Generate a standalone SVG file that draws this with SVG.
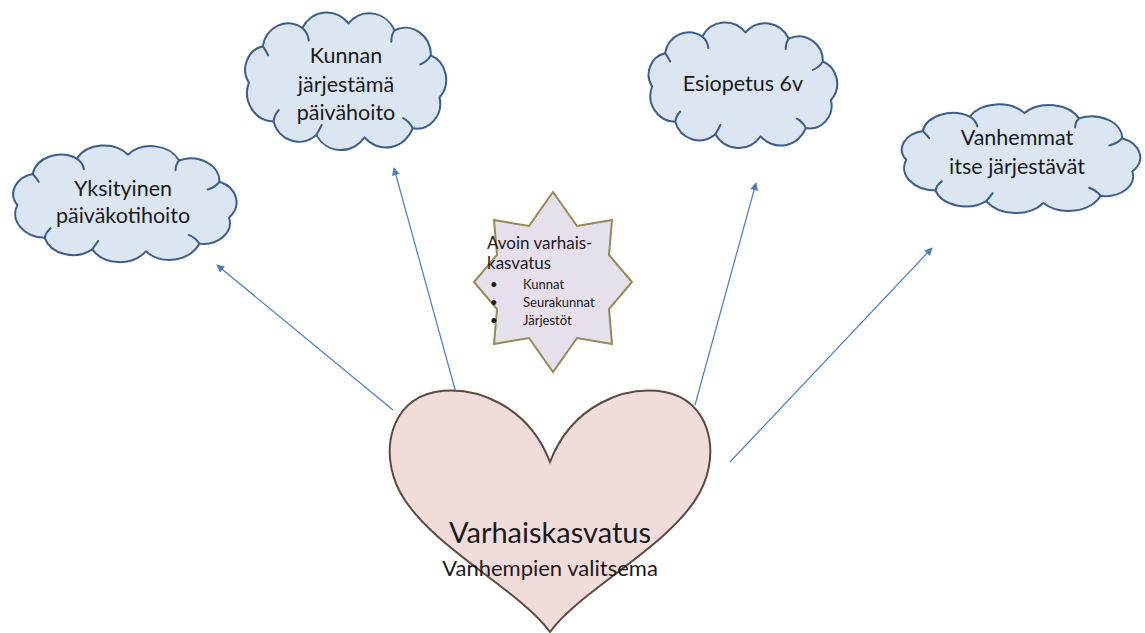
<svg xmlns="http://www.w3.org/2000/svg" width="1145" height="633" viewBox="0 0 1145 633">
<style>
.cloud{fill:#DCE6F2;stroke:#3B5E8C;stroke-width:2;stroke-linejoin:round}
.hook{fill:none;stroke:#3B5E8C;stroke-width:2;stroke-linecap:round}
.t{font-family:Lato,"Liberation Sans",sans-serif;fill:#1a1a1a;text-anchor:middle}
.st{font-family:Lato,"Liberation Sans",sans-serif;fill:#1a1a1a}
.conn{stroke:#4A7EBB;stroke-width:1.2;fill:none}
</style>
<defs>
<marker id="ah" viewBox="0 0 10 10" refX="9" refY="5" markerWidth="8" markerHeight="8" markerUnits="userSpaceOnUse" orient="auto">
<path d="M0,0 L10,5 L0,10 Z" fill="#4A7EBB"/>
</marker>
<g id="cloudShape">
<path class="cloud" vector-effect="non-scaling-stroke" d="M12,62 A21,21 0 0,1 25,30 A24,24 0 0,1 62,14 A26,26 0 0,1 105,10 A26,26 0 0,1 148,16 A24,24 0 0,1 182,38 A23,23 0 0,1 190,75 A22,22 0 0,1 165,102 A27,27 0 0,1 120,110 A27,27 0 0,1 75,108 A25,25 0 0,1 35,96 A25,25 0 0,1 12,62 Z"/>
<path class="hook" vector-effect="non-scaling-stroke" d="M62,14 Q67,18 68,25 M148,16 Q145,20 145,26 M182,38 Q178,44 172,46 M165,102 Q162,96 156,93 M75,108 Q78,103 80,99 M35,96 Q36,90 40,86 M25,30 Q28,34 30,38"/>
</g>
</defs>

<g id="connectors">
<line class="conn" x1="393" y1="410" x2="217" y2="265" marker-end="url(#ah)"/>
<line class="conn" x1="456" y1="393" x2="394" y2="168" marker-end="url(#ah)"/>
<line class="conn" x1="695" y1="405" x2="756" y2="183" marker-end="url(#ah)"/>
<line class="conn" x1="730" y1="462" x2="932" y2="248" marker-end="url(#ah)"/>
</g>

<g id="node-yksityinen">
<use href="#cloudShape" transform="translate(3,145) scale(1.19,0.967)"/>
<text class="t" x="123" y="196" font-size="21.5">Yksityinen</text>
<text class="t" x="123" y="223" font-size="21.5">päiväkotihoito</text>
</g>

<g id="node-kunnan">
<use href="#cloudShape" transform="translate(236,12) scale(1.071,1.14)"/>
<text class="t" x="346" y="63" font-size="21.5">Kunnan</text>
<text class="t" x="346" y="92" font-size="21.5">järjestämä</text>
<text class="t" x="346" y="120" font-size="21.5">päivähoito</text>
</g>

<g id="node-esiopetus">
<use href="#cloudShape" transform="translate(640,22) scale(1.005,1.04)"/>
<text class="t" x="743" y="91" font-size="21.5">Esiopetus 6v</text>
</g>

<g id="node-vanhemmat">
<use href="#cloudShape" transform="translate(891,104) scale(1.27,0.9)"/>
<text class="t" x="1017" y="145" font-size="21.5">Vanhemmat</text>
<text class="t" x="1017" y="174" font-size="21.5">itse järjestävät</text>
</g>

<g id="node-avoin">
<polygon fill="#E5E0EC" stroke="#948A54" stroke-width="2" points="553,192 577,226 612,220 609,255 632,282 609,309 612,344 577,338 553,372 529,338 494,344 497,309 474,282 497,255 494,220 529,226"/>
<text class="st" x="487" y="249" font-size="17">Avoin varhais-</text>
<text class="st" x="487" y="269" font-size="17">kasvatus</text>
<text class="st" x="490" y="289" font-size="13">•</text>
<text class="st" x="523" y="289" font-size="13">Kunnat</text>
<text class="st" x="490" y="307" font-size="13">•</text>
<text class="st" x="523" y="307" font-size="13">Seurakunnat</text>
<text class="st" x="490" y="325" font-size="13">•</text>
<text class="st" x="523" y="325" font-size="13">Järjestöt</text>
</g>

<g id="node-varhaiskasvatus">
<path fill="#F2DCDB" stroke="#5A4C42" stroke-width="2" d="M550,462 C572,405 625,385 665,392 C708,400 722,450 700,492 C672,545 580,590 550,632 C520,590 428,545 400,492 C378,450 392,400 435,392 C475,385 528,405 550,462 Z"/>
<text class="t" x="550" y="543" font-size="29">Varhaiskasvatus</text>
<text class="t" x="550" y="576" font-size="22">Vanhempien valitsema</text>
</g>
</svg>
